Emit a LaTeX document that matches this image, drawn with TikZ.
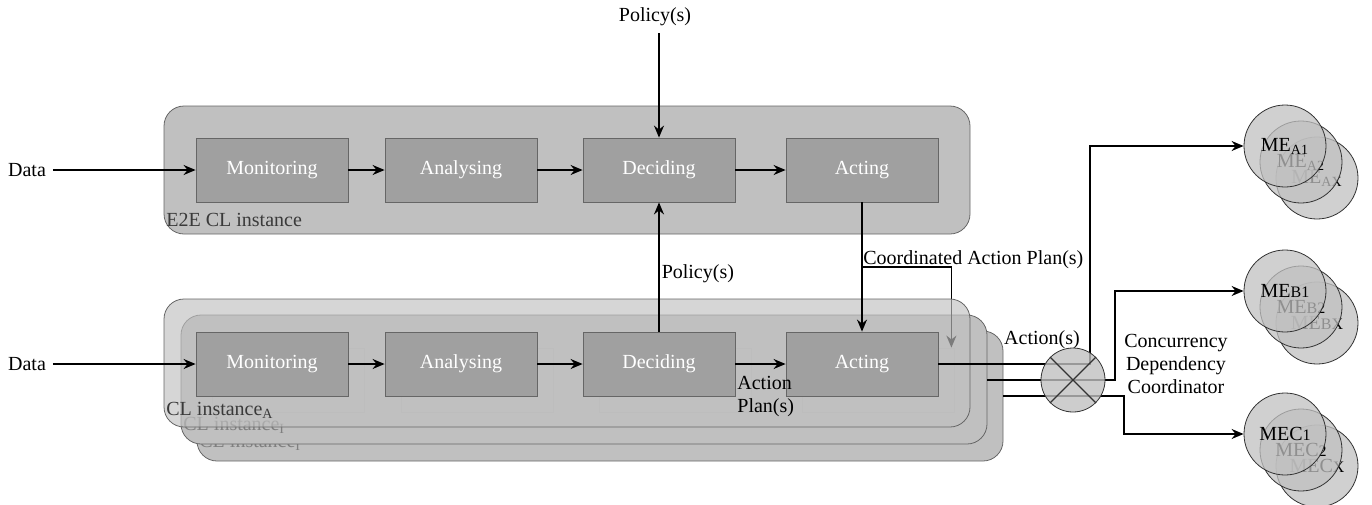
\documentclass[tikz,border=0pt]{standalone}
\usepackage{fontspec}
\setmainfont{LiberationSerif}[Extension=.ttf,UprightFont=*-Regular,BoldFont=*-Bold,ItalicFont=*-Italic,BoldItalicFont=*-BoldItalic]
\usetikzlibrary{arrows.meta}

\definecolor{boxfill}{HTML}{A0A0A0}
\definecolor{framefill}{HTML}{C0C0C0}
\definecolor{edgegray}{HTML}{666666}
\definecolor{labelgray}{HTML}{3A3A3A}

\begin{document}
\begin{tikzpicture}[x=0.5pt,y=-0.5pt,>={Stealth[length=6pt,width=5pt]},
	font=\fontsize{10}{11.5}\selectfont,
	stage/.style={draw=edgegray,fill=boxfill,text=white,minimum width=76pt,minimum height=32pt,inner sep=0pt},
	ghost/.style={draw=gray!55,minimum width=76pt,minimum height=32pt,inner sep=0pt},
	frame/.style={draw=edgegray,fill=framefill,rounded corners=10pt},
	tag/.style={anchor=base west,inner sep=0pt},
	me/.style={circle,draw=black!80,fill=framefill,fill opacity=0.75,text opacity=1,minimum size=41pt,inner sep=0pt},
	flow/.style={->,line width=0.75pt}]

\useasboundingbox (0,0) rectangle (1372,504);

% The E2E loop
\draw[frame] (164,106) rectangle (970,234);
\node[tag,text=labelgray] (e2e) at (166,226) {E2E CL instance};

\foreach \n/\x/\t in {mon/272/Monitoring,ana/461/Analysing,dec/659/Deciding,act/862/Acting}
{
	\node[stage] (\n1) at (\x,170) {\t};
}

\node (data1) at (27,170) {Data};
\node (pol1) at (655,17) {Policy(s)};

\draw[flow] (data1) -- (mon1);
\draw[flow] (mon1) -- (ana1);
\draw[flow] (ana1) -- (dec1);
\draw[flow] (dec1) -- (act1);
\draw[flow] (pol1.south -| dec1) -- (dec1);

% The stacked CL instances (back to front)
\draw[frame] (197,331) rectangle (1003,461);
\node[tag,text=gray] (cl3) at (199,447) {CL instance\textsubscript{I}};
\draw[frame] (181,315) rectangle (987,444);
\node[tag,text=gray] (cl2) at (183,430) {CL instance\textsubscript{I}};

\foreach \n/\x in {mon/272,ana/461,dec/659,act/862}
{
	\node[ghost] (g\n) at (\x+16,380) {};
}

\coordinate (cap) at (862,267);
\draw[flow] (cap) -| ([xshift=-1.5pt]gact.north east);

\draw[frame,fill opacity=0.65] (164,299) rectangle (970,427);
\node[tag,text=labelgray] (cl1) at (166,415) {CL instance\textsubscript{A}};

\foreach \n/\x/\t in {mon/272/Monitoring,ana/461/Analysing,dec/659/Deciding,act/862/Acting}
{
	\node[stage] (\n2) at (\x,364) {\t};
}

\node (data2) at (27,364) {Data};

\draw[flow] (data2) -- (mon2);
\draw[flow] (mon2) -- (ana2);
\draw[flow] (ana2) -- (dec2);
\draw[flow] (dec2) -- (act2);
\draw[flow] (dec2) -- (dec1) node[pos=0.45,anchor=west,inner sep=1pt] {Policy(s)};
\draw[flow] (act1) -- (act2);

\node[tag] (cplan) at (863,264) {Coordinated Action Plan(s)};
\node[anchor=west,align=left,inner sep=1pt] (aplan) at (735,397) {Action\\Plan(s)};

% The managed entities
\node[me] (meax) at (1317,178) {ME\textsubscript{AX}};
\node[me] (mea2) at (1301,162) {ME\textsubscript{A2}};
\node[me] (mea1) at (1285,146) {ME\textsubscript{A1}};

\node[me] (mebx) at (1317,323) {ME{\footnotesize BX}};
\node[me] (meb2) at (1301,307) {ME{\footnotesize B2}};
\node[me] (meb1) at (1285,291) {ME{\footnotesize B1}};

\node[me] (mecx) at (1317,466) {MEC{\footnotesize X}};
\node[me] (mec2) at (1301,450) {MEC{\footnotesize 2}};
\node[me] (mec1) at (1285,434) {MEC{\footnotesize 1}};

\coordinate (c2out) at (987,380);
\coordinate (c3out) at (1003,396);

\draw[flow] (act2.east) -- (1090,364) |- (mea1);
\draw[flow] (c2out) -- (1115,380) |- (meb1);
\draw[flow] (c3out) -- (1124,396) |- (mec1);

% The coordinator
\node[circle,draw=black!80,fill=framefill,fill opacity=0.8,minimum size=32pt,inner sep=0pt] (cdc) at (1073,380) {};
\draw[line width=0.6pt,black!80] (cdc.45) -- (cdc.225) (cdc.135) -- (cdc.-45);

\node (acts) at (1042,340) {Action(s)};
\node[align=center] (cdctxt) at (1176,364) {Concurrency\\Dependency\\Coordinator};

\end{tikzpicture}
\end{document}
